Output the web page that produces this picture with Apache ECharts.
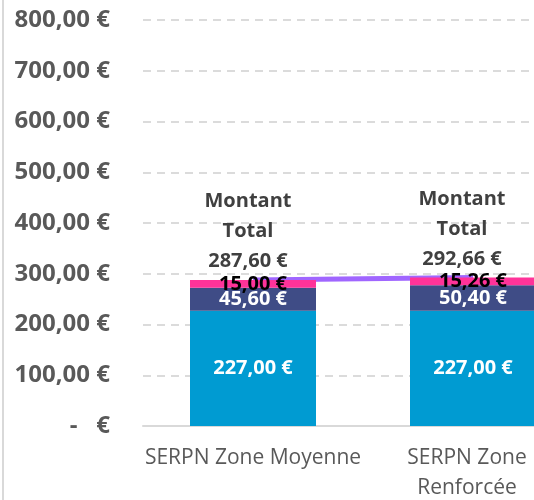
<!DOCTYPE html>
<html>
<head>
<meta charset="utf-8">
<script src="https://cdn.jsdelivr.net/npm/echarts@6/dist/echarts.min.js"></script>
<style>html,body{margin:0;padding:0;background:#fff}#c{width:534px;height:500px}</style>
</head>
<body>
<div id="c"></div>
<script>
const categories = ['SERPN Zone Moyenne', 'SERPN Zone Renforcée'];
const baseValues = [227.00, 227.00];
const midValues = [45.60, 50.40];
const topValues = [15.00, 15.26];
const totalValues = [287.60, 292.66];
const yTicks = [0, 100, 200, 300, 400, 500, 600, 700, 800];

const FONT = '"Open Sans", sans-serif';
function eur(v) {
  return v.toFixed(2).replace('.', ',') + ' €';
}
function yFmt(v) {
  return v === 0 ? '-   €' : eur(v);
}
const totalLabelOffsets = [[-5, 0], [-11, 0]];
const xLabelOffsets = [0, -6];

const chart = echarts.init(document.getElementById('c'), null, {renderer: 'canvas'});
chart.setOption({
  animation: false,
  grid: {left: 143, top: 20, right: -49, bottom: 74, containLabel: false, outerBoundsMode: 'none'},
  graphic: [{
    type: 'line', shape: {x1: 3, y1: 0, x2: 3, y2: 500},
    style: {stroke: '#D9D9D9', lineWidth: 2}, silent: true
  }],
  xAxis: {
    type: 'category',
    data: categories.map((c, i) => ({value: c, textStyle: {padding: [0, -2 * xLabelOffsets[i], 0, 0]}})),
    axisLine: {show: true, lineStyle: {color: '#D9D9D9', width: 2}},
    axisTick: {show: false},
    axisLabel: {
      interval: 0, hideOverlap: false,
      color: '#595959', fontFamily: FONT, fontSize: 21, lineHeight: 30, margin: 17,
      formatter: function (v, i) { return i === 1 ? v.replace(/ (\S+)$/, '\n$1') : v; }
    }
  },
  yAxis: {
    type: 'value', min: yTicks[0], max: yTicks[yTicks.length - 1], interval: 100,
    axisLine: {show: false}, axisTick: {show: false},
    splitLine: {show: true, lineStyle: {color: '#D0D0D0', width: 1.5, type: [8, 6]}},
    axisLabel: {color: '#595959', fontFamily: FONT, fontSize: 24, fontWeight: 'bold', margin: 33, formatter: yFmt}
  },
  series: [
    {
      name: 'Base', type: 'bar', stack: 't', barWidth: 126, data: baseValues, z: 3,
      itemStyle: {color: '#009BD2'},
      label: {show: true, position: 'inside', color: '#FFFFFF', fontFamily: FONT, fontSize: 20, fontWeight: 'bold',
        formatter: p => eur(p.value)}
    },
    {
      name: 'Mid', type: 'bar', stack: 't', data: midValues, z: 3,
      itemStyle: {color: '#3F4C86'},
      label: {show: true, position: 'inside', color: '#FFFFFF', fontFamily: FONT, fontSize: 20, fontWeight: 'bold',
        formatter: p => eur(p.value)}
    },
    {
      name: 'Top', type: 'bar', stack: 't', data: topValues, z: 3,
      itemStyle: {color: '#FF3399'},
      label: {show: true, position: 'inside', color: '#000000', fontFamily: FONT, fontSize: 20, fontWeight: 'bold',
        formatter: p => eur(p.value)}
    },
    {
      name: 'Montant Total', type: 'line', z: 1,
      data: totalValues.map((v, i) => ({value: v, label: {offset: totalLabelOffsets[i]}})),
      symbol: 'circle', symbolSize: 1, showSymbol: true,
      itemStyle: {color: 'rgba(0,0,0,0)'},
      lineStyle: {color: '#A066FF', width: 5},
      label: {show: true, position: 'top', distance: 3, color: '#404040', fontFamily: FONT, fontSize: 20,
        fontWeight: 'bold', lineHeight: 30, align: 'center',
        formatter: p => 'Montant\nTotal\n' + eur(p.value)}
    }
  ]
});
</script>
</body>
</html>
